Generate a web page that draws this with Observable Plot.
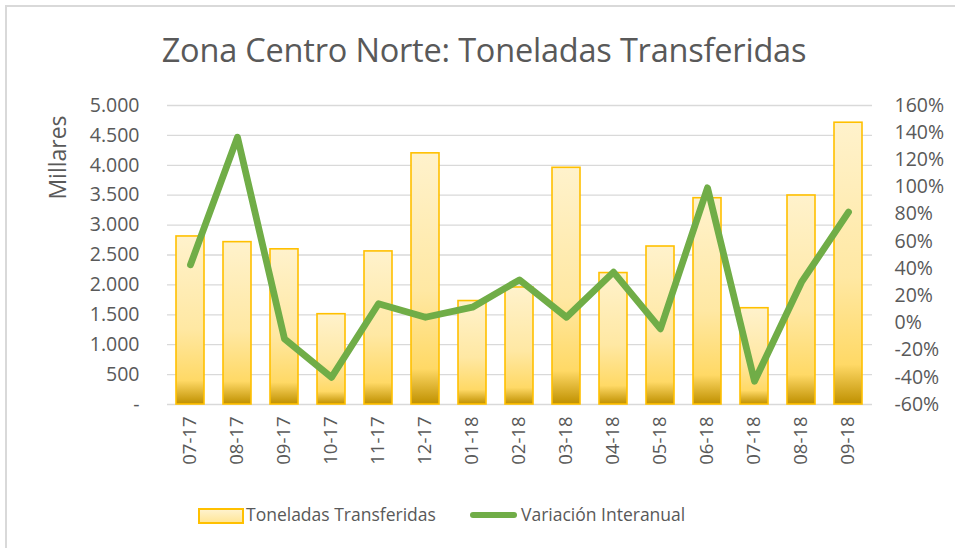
<!DOCTYPE html>
<html>
<head>
<meta charset="utf-8">
<script src="https://cdn.jsdelivr.net/npm/d3@7"></script>
<script src="https://cdn.jsdelivr.net/npm/@observablehq/plot@0.6"></script>
<style>
  html, body { margin: 0; padding: 0; background: #fff; overflow: hidden; }
  #wrap { position: relative; width: 955px; height: 548px; overflow: hidden; font-family: "Open Sans", sans-serif; color: #595959; }
  #border { position: absolute; left: 5px; top: 5px; width: 980px; height: 580px; border: 2px solid #D9D9D9; box-sizing: border-box; }
  #title { position: absolute; left: 0; width: 968px; top: 27px; text-align: center; font-size: 32.5px; color: #595959; letter-spacing: -0.2px; }
  #chart { position: absolute; left: 0; top: 0; }
  #legend { position: absolute; top: 502px; left: 0; width: 955px; height: 26px; font-size: 17.5px; color: #595959; }
  .sw-bar { position: absolute; left: 198px; top: 6px; width: 42px; height: 12px; border: 2px solid #FFC000; background: linear-gradient(#FFF2CC, #FFE699); }
  .sw-line { position: absolute; left: 470px; top: 10px; width: 47px; height: 6px; border-radius: 3px; background: #70AD47; }
  .lab1 { position: absolute; left: 246px; top: 0; }
  .lab2 { position: absolute; left: 521px; top: 0; }
</style>
</head>
<body>
<div id="wrap">
  <div id="border"></div>
  <div id="title">Zona Centro Norte: Toneladas Transferidas</div>
  <div id="chart"></div>
  <div id="legend">
    <div class="sw-bar"></div><div class="lab1">Toneladas Transferidas</div>
    <div class="sw-line"></div><div class="lab2">Variación Interanual</div>
  </div>
</div>
<script>
const categories = ["07-17","08-17","09-17","10-17","11-17","12-17","01-18","02-18","03-18","04-18","05-18","06-18","07-18","08-18","09-18"];
// Toneladas transferidas (miles)
const toneladas = [2810, 2715, 2595, 1510, 2560, 4200, 1730, 1957, 3958, 2198, 2642, 3450, 1610, 3495, 4712];
// Variación interanual (%)
const variacion = [42.8, 136.7, -11.7, -40, 14.1, 4.2, 11.6, 31.7, 4.2, 37.4, -4.3, 99.4, -42.9, 30, 81.5];
const leftTicks = [0, 500, 1000, 1500, 2000, 2500, 3000, 3500, 4000, 4500, 5000];
const rightTicks = [-60, -40, -20, 0, 20, 40, 60, 80, 100, 120, 140, 160];

const pctMin = -60, pctMax = 160, yMax = 5000;
const pctToY = p => (p - pctMin) / (pctMax - pctMin) * yMax;

const barData = categories.map((c, i) => ({cat: c, value: toneladas[i]}));
const lineData = categories.map((c, i) => ({cat: c, pct: variacion[i]}));

const fmtLeft = d => d === 0 ? "-" : d3.format(",")(d).replace(/,/g, ".");

const defs = () => {
  const g = d3.create("svg:defs");
  const lg = g.append("linearGradient").attr("id", "barGrad").attr("x1", 0).attr("y1", 0).attr("x2", 0).attr("y2", 1);
  lg.append("stop").attr("offset", "0%").attr("stop-color", "#FFF2CC");
  lg.append("stop").attr("offset", "55%").attr("stop-color", "#FFE8A3");
  lg.append("stop").attr("offset", "86%").attr("stop-color", "#FFD966");
  lg.append("stop").attr("offset", "100%").attr("stop-color", "#BF9000");
  return g.node();
};

const plot = Plot.plot({
  width: 955,
  height: 480,
  marginLeft: 167,
  marginRight: 83,
  marginTop: 105,
  marginBottom: 76,
  style: {fontFamily: "Open Sans, sans-serif", color: "#595959", background: "transparent", overflow: "visible"},
  x: {domain: categories, paddingInner: 0.4, paddingOuter: 0.2, label: null},
  y: {domain: [0, yMax], label: null},
  marks: [
    defs,
    Plot.gridY(leftTicks, {stroke: "#D9D9D9", strokeOpacity: 1, strokeWidth: 1.3}),
    Plot.barY(barData, {x: "cat", y: "value", fill: "url(#barGrad)", stroke: "#FFC000", strokeWidth: 1.6}),
    Plot.line(lineData, {x: "cat", y: d => pctToY(d.pct), stroke: "#70AD47", strokeWidth: 6.8, strokeLinecap: "round", strokeLinejoin: "round"}),
    Plot.axisY(leftTicks, {anchor: "left", tickSize: 0, tickPadding: 28, tickFormat: fmtLeft, fontSize: 19.5, label: null}),
    Plot.axisY(rightTicks.map(pctToY), {anchor: "right", tickSize: 0, tickPadding: 22, tickFormat: v => Math.round(v / yMax * (pctMax - pctMin) + pctMin) + "%", fontSize: 19.5, label: null, textAnchor: "start"}),
    Plot.axisX({tickSize: 0, tickPadding: 12, tickRotate: -90, fontSize: 18.5, label: null}),
    Plot.text(["Millares"], {frameAnchor: "top-left", dx: -118, dy: 52, rotate: -90, fontSize: 23, fill: "#595959", textAnchor: "middle"})
  ]
});
document.getElementById("chart").appendChild(plot);
</script>
</body>
</html>
